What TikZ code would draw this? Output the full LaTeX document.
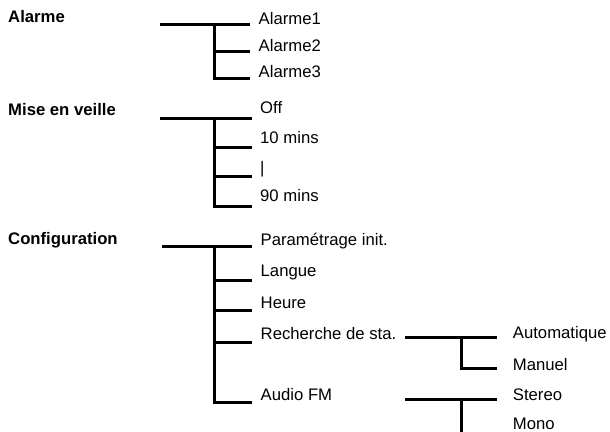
\documentclass[tikz,border=0pt]{standalone}
\usepackage{fontspec}
\setmainfont{Liberation Sans}
\usepackage{tikz}

\tikzset{
  branch/.style={line width=3pt},
  item/.style={anchor=base west, inner sep=0pt, font=\fontsize{16.7}{20}\selectfont},
  title/.style={item, font=\fontsize{16.7}{20}\selectfont\bfseries}
}

\begin{document}
\begin{tikzpicture}[x=1pt, y=-1pt]
     \useasboundingbox (0,0) rectangle (610,431);

            % Alarme
            \node[title] (alarme) at (8,22) {Alarme};
            \coordinate (a0) at (160,24);
            \coordinate (aj) at (214.3,24);
            \coordinate (a1) at (250,24);
            \coordinate (a2) at (250,51.7);
            \coordinate (a3) at (250,78.3);
            \node[item] (alarme1) at (258.5,24) {Alarme1};
            \node[item] (alarme2) at (258.5,51) {Alarme2};
            \node[item] (alarme3) at (258.5,77.7) {Alarme3};
            \draw[branch] (a0) -- (a1);
            \draw[branch] (aj) |- (a2);
            \draw[branch] (aj) |- (a3);

            % Mise en veille
            \node[title] (veille) at (8,115.7) {Mise en veille};
            \coordinate (m0) at (160,118.3);
            \coordinate (mj) at (214.8,118.3);
            \coordinate (m1) at (251.5,118.3);
            \coordinate (m2) at (251.5,147.7);
            \coordinate (m3) at (251.5,176);
            \coordinate (m4) at (251.5,206);
            \node[item] (off) at (260,113.3) {Off};
            \node[item] (dix) at (260,143.3) {10 mins};
            \node[item] (trait) at (260,173.2) {|};
            \node[item] (nonante) at (260,201.7) {90 mins};
            \draw[branch] (m0) -- (m1);
            \draw[branch] (mj) |- (m2);
            \draw[branch] (mj) |- (m3);
            \draw[branch] (mj) |- (m4);

            % Configuration
            \node[title] (config) at (8,244) {Configuration};
            \coordinate (c0) at (161.5,246.7);
            \coordinate (cj) at (214.3,246.7);
            \coordinate (c1) at (252,246.7);
            \coordinate (c2) at (252,280.7);
            \coordinate (c3) at (252,310);
            \coordinate (c4) at (252,342.3);
            \coordinate (c5) at (252,402.7);
            \node[item] (param) at (260.5,245.7) {Paramétrage init.};
            \node[item] (langue) at (260.5,276.7) {Langue};
            \node[item] (heure) at (260.5,308.3) {Heure};
            \node[item] (recherche) at (260.5,339.3) {Recherche de sta.};
            \node[item] (audio) at (260.5,400) {Audio FM};
            \draw[branch] (c0) -- (c1);
            \draw[branch] (cj) |- (c2);
            \draw[branch] (cj) |- (c3);
            \draw[branch] (cj) |- (c4);
            \draw[branch] (cj) |- (c5);

            % Recherche de sta.
            \coordinate (r0) at (405,337);
            \coordinate (rj) at (461.7,337);
            \coordinate (r1) at (497,337);
            \coordinate (r2) at (497,368.5);
            \node[item] (auto) at (512.7,338.3) {Automatique};
            \node[item] (manuel) at (512.7,370) {Manuel};
            \draw[branch] (r0) -- (r1);
            \draw[branch] (rj) |- (r2);

            % Audio FM
            \coordinate (s0) at (405,399.5);
            \coordinate (sj) at (461.7,399.5);
            \coordinate (s1) at (497,399.5);
            \coordinate (s2) at (497,436);
            \node[item] (stereo) at (512.7,400) {Stereo};
            \node[item] (mono) at (512.7,429.7) {Mono};
            \draw[branch] (s0) -- (s1);
            \draw[branch] (sj) |- (s2);
     \end{tikzpicture}
\end{document}
